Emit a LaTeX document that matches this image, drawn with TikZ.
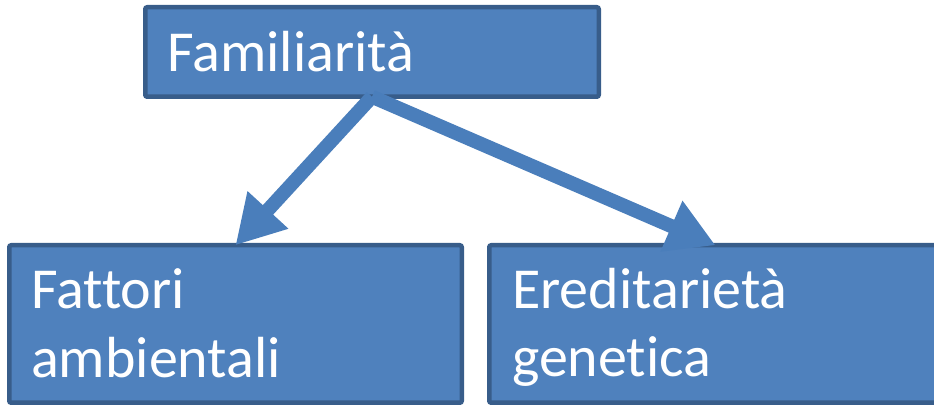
\documentclass[tikz,border=0pt]{standalone}
\usepackage{fontspec}
\setmainfont[Ligatures=NoCommon]{Carlito}
\usetikzlibrary{arrows.meta}
\definecolor{boxfill}{HTML}{4F81BD}
\definecolor{boxline}{HTML}{385D8A}
\definecolor{arrowblue}{HTML}{4A7EBB}
\tikzset{
  box/.style={draw=boxline, fill=boxfill, line width=4.5pt, rounded corners=2pt,
              inner sep=0pt, outer sep=0pt},
  lbl/.style={text=white, inner sep=0pt, anchor=base west,
              font=\fontsize{58}{67}\selectfont},
  arr/.style={draw=arrowblue, line width=14pt,
              -{Triangle[length=48pt, width=52pt]}}
}
\begin{document}
\begin{tikzpicture}[x=1pt, y=1pt]
  \useasboundingbox (0,0) rectangle (934,406);

  % boxes
  \node[box, minimum width=453.5pt, minimum height=89.5pt] (fam) at (372,354) {};
  \node[box, minimum width=452.5pt, minimum height=157.5pt] (env) at (235.5,82) {};
  \node[box, minimum width=452.5pt, minimum height=157.5pt] (gen) at (715.5,82) {};

  % labels
  \node[lbl] (famtext) at (167,334) {Familiarità};
  \node[lbl] (envtext1) at (31,97) {Fattori};
  \node[lbl] (envtext2) at (31,28) {ambientali};
  \node[lbl] (gentext1) at (512,97) {Ereditarietà};
  \node[lbl] (gentext2) at (512,29) {genetica};

  % connectors
  \draw[arr] (fam.south) -- (env.north);
  \draw[arr] (fam.south) -- (gen.north);
\end{tikzpicture}
\end{document}
